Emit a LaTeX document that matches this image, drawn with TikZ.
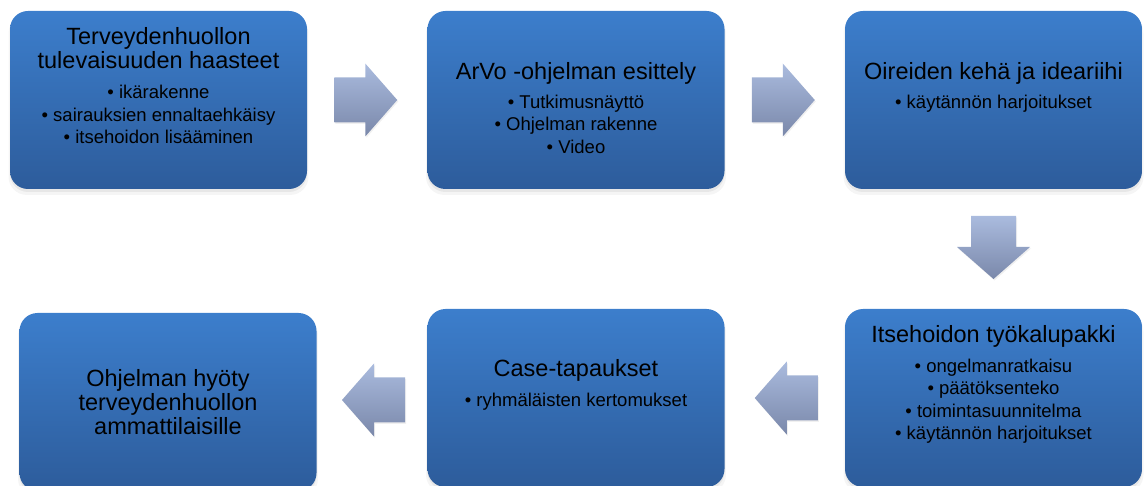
\documentclass[tikz,border=0pt]{standalone}
\usepackage{fontspec}
\setmainfont{Liberation Sans}
\usetikzlibrary{positioning,calc,shadows}
\definecolor{boxtop}{RGB}{60,126,204}
\definecolor{boxbottom}{RGB}{45,92,155}
\definecolor{arrowtop}{RGB}{170,187,222}
\definecolor{arrowbottom}{RGB}{122,136,170}
\tikzset{
    stepbox/.style={rounded corners=18pt, minimum width=297pt, minimum height=178pt,
        top color=boxtop, bottom color=boxbottom,
        drop shadow={opacity=0.08, shadow xshift=0pt, shadow yshift=-5pt, shadow scale=1.01},
        drop shadow={opacity=0.12, shadow xshift=0pt, shadow yshift=-3pt}},
    blockarrow/.style={top color=arrowtop, bottom color=arrowbottom,
        drop shadow={opacity=0.12, shadow xshift=1pt, shadow yshift=-1.5pt}},
    titletext/.style={align=center, inner sep=0pt, font=\fontsize{23.5}{24}\selectfont},
    bullettext/.style={align=center, inner sep=0pt, font=\fontsize{18.5}{22.4}\selectfont},
}

\begin{document}
\begin{tikzpicture}[x=1pt, y=-1pt]
    \useasboundingbox (0,0) rectangle (1144,486);

    % Boxes
    \node[stepbox] (b1) at (158.5,100) {};
    \node[stepbox] (b2) at (576,100) {};
    \node[stepbox] (b3) at (993.5,100) {};
    \node[stepbox] (b4) at (993.5,398) {};
    \node[stepbox] (b5) at (576,398) {};
    \node[stepbox] (b6) at (168,402) {};

    % Texts
    \node[titletext, below=16pt of b1.north] (t1) {Terveydenhuollon\\tulevaisuuden haasteet};
    \node[bullettext, below=74.3pt of b1.north] (l1) {• ikärakenne\\• sairauksien ennaltaehkäisy\\• itsehoidon lisääminen};

    \node[titletext, below=51pt of b2.north] (t2) {ArVo -ohjelman esittely};
    \node[bullettext, below=83.8pt of b2.north] (l2) {• Tutkimusnäyttö\\• Ohjelman rakenne\\• Video};

    \node[titletext, below=51pt of b3.north] (t3) {Oireiden kehä ja ideariihi};
    \node[bullettext, below=83.8pt of b3.north] (l3) {• käytännön harjoitukset};

    \node[titletext, below=16.3pt of b4.north] (t4) {Itsehoidon työkalupakki};
    \node[bullettext, below=50pt of b4.north] (l4) {• ongelmanratkaisu\\• päätöksenteko\\• toimintasuunnitelma\\• käytännön harjoitukset};

    \node[titletext, below=50.7pt of b5.north] (t5) {Case-tapaukset};
    \node[bullettext, below=84.5pt of b5.north] (l5) {• ryhmäläisten kertomukset};

    \node[titletext, below=56.7pt of b6.north] (t6) {Ohjelman hyöty\\terveydenhuollon\\ammattilaisille};

    % Arrows between boxes
    \coordinate (m12) at ($(b1.east)!0.5!(b2.west)$);
    \coordinate (m23) at ($(b2.east)!0.5!(b3.west)$);
    \coordinate (m34) at ($(b3.south)!0.5!(b4.north)$);
    \coordinate (m45) at ($(b4.west)!0.5!(b5.east)$);
    \coordinate (m56) at ($(b5.west)!0.5!(b6.east)$);

    \shade[blockarrow, shift={(m12)}] (-33,-22.5) -- (-2,-22.5) -- (-2,-36.5) -- (30,0) -- (-2,36.5) -- (-2,22.5) -- (-33,22.5) -- cycle;
    \shade[blockarrow, shift={(m23)}] (-33,-22.5) -- (-2,-22.5) -- (-2,-36.5) -- (30,0) -- (-2,36.5) -- (-2,22.5) -- (-33,22.5) -- cycle;
    \shade[blockarrow, shift={(m34)}] (-22.5,-33) -- (22.5,-33) -- (22.5,-2) -- (36.5,-2) -- (0,30) -- (-36.5,-2) -- (-22.5,-2) -- cycle;
    \shade[blockarrow, shift={(m45)}, xscale=-1] (-33,-22.5) -- (-2,-22.5) -- (-2,-36.5) -- (30,0) -- (-2,36.5) -- (-2,22.5) -- (-33,22.5) -- cycle;
    \shade[blockarrow, shift={(m56)}, xscale=-1] (-33,-22.5) -- (-2,-22.5) -- (-2,-36.5) -- (30,0) -- (-2,36.5) -- (-2,22.5) -- (-33,22.5) -- cycle;
\end{tikzpicture}
\end{document}
